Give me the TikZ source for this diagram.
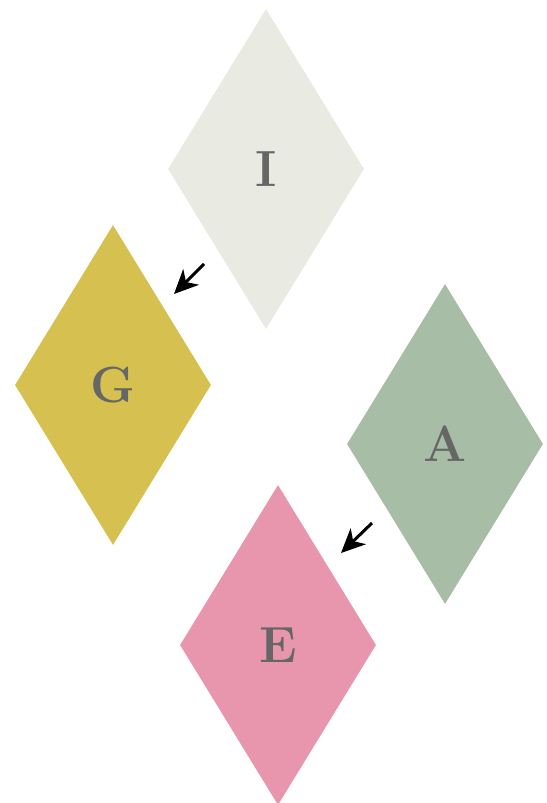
\documentclass[tikz,border=0pt]{standalone}
\usetikzlibrary{shapes.geometric,arrows.meta}
\definecolor{gemI}{HTML}{E9EAE2}
\definecolor{gemG}{HTML}{D6C150}
\definecolor{gemA}{HTML}{A7BDA6}
\definecolor{gemE}{HTML}{E896AD}
\definecolor{letter}{HTML}{666666}
\tikzset{
  gem/.style={diamond, draw=none, inner sep=0pt, minimum width=196bp, minimum height=320bp,
    text=letter, font=\fontsize{51}{60}\selectfont\bfseries},
  pointer/.style={-{Stealth[length=24bp,width=22bp,inset=7bp]}, line width=3bp, black}
}
\begin{document}
\begin{tikzpicture}[x=1bp, y=-1bp]
  % 1. 枠
  \useasboundingbox (0,0) rectangle (547,803);

  % 2. 菱形
  \node[gem, fill=gemI] (I) at (266,169) {I};
  \node[gem, fill=gemG] (G) at (113,385) {G};
  \node[gem, fill=gemA] (A) at (445,444) {A};
  \node[gem, fill=gemE] (E) at (278,645) {E};

  % 3. 矢印の端点
  \coordinate (p1) at (204,264);
  \coordinate (q1) at (174,294);
  \coordinate (p2) at (372,523);
  \coordinate (q2) at (341,553);

  % 4. 矢印
  \draw[pointer] (p1) -- (q1);
  \draw[pointer] (p2) -- (q2);
\end{tikzpicture}
\end{document}
